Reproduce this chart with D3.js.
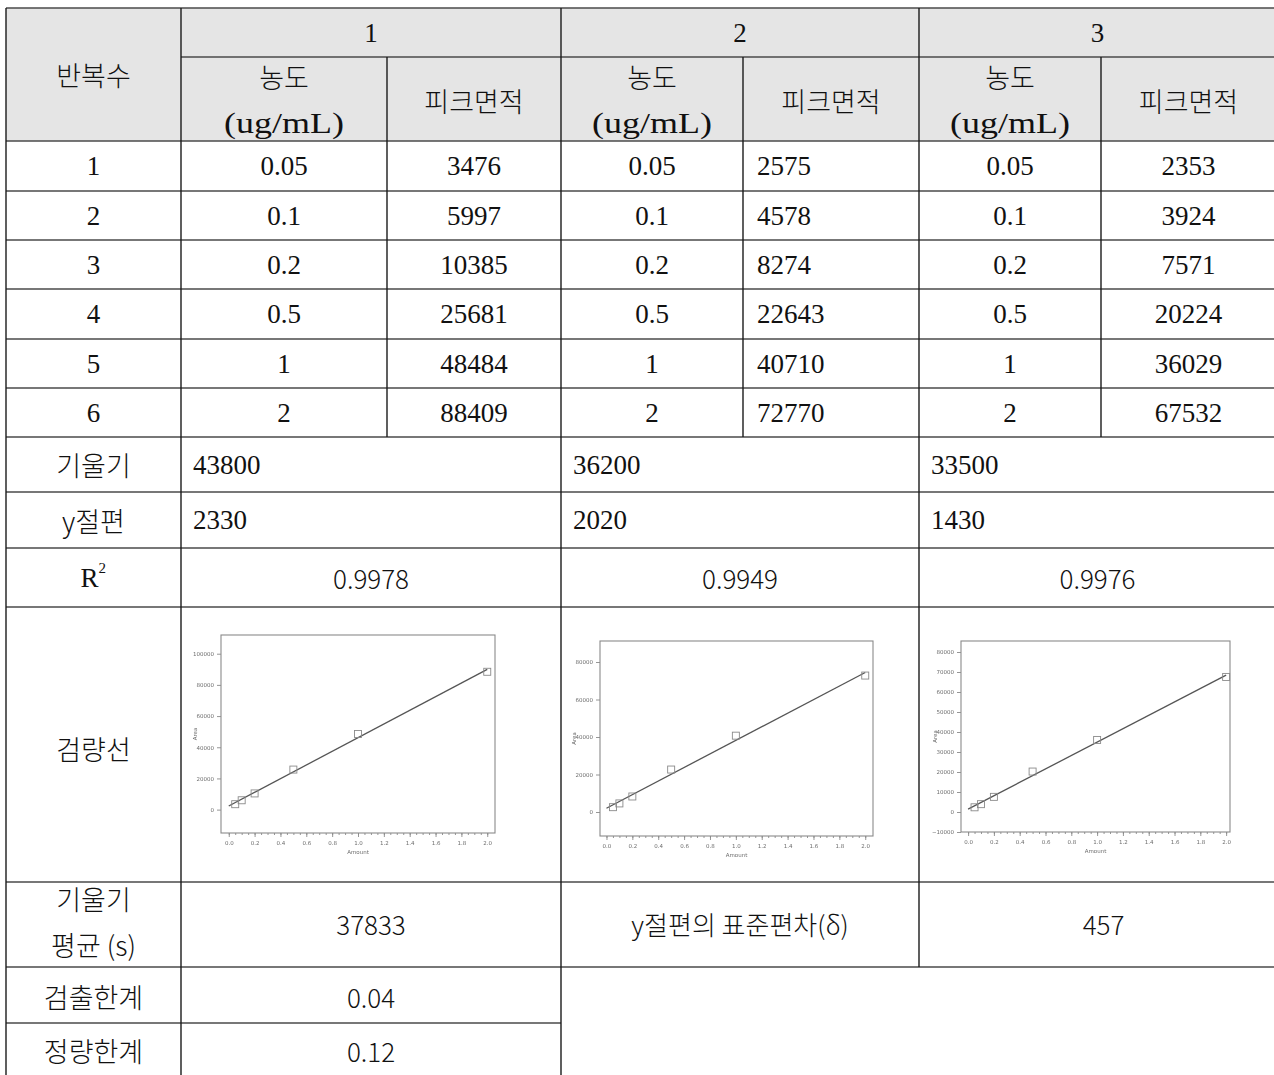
<!DOCTYPE html>
<html>
<head>
<meta charset="utf-8">
<script src="https://cdn.jsdelivr.net/npm/d3@7/dist/d3.min.js"></script>
<style>
  html, body { margin: 0; padding: 0; background: #ffffff; }
  svg { display: block; }
</style>
</head>
<body>
<svg id="chart" width="1274" height="1075"></svg>
<script>
// ---- data ----
const replicates = ["1", "2", "3"];
const rowNumbers = ["1", "2", "3", "4", "5", "6"];
const concentrations = [0.05, 0.1, 0.2, 0.5, 1, 2];
const concLabels = ["0.05", "0.1", "0.2", "0.5", "1", "2"];
const areaRep1 = [3476, 5997, 10385, 25681, 48484, 88409];
const areaRep2 = [2575, 4578, 8274, 22643, 40710, 72770];
const areaRep3 = [2353, 3924, 7571, 20224, 36029, 67532];
const slopes = [43800, 36200, 33500];
const intercepts = [2330, 2020, 1430];
const rSquared = ["0.9978", "0.9949", "0.9976"];
const slopeMean = "37833";
const interceptSd = "457";
const detectionLimit = "0.04";
const quantLimit = "0.12";
const yTicksRep1 = [0, 20000, 40000, 60000, 80000, 100000];
const yTicksRep2 = [0, 20000, 40000, 60000, 80000];
const yTicksRep3 = [-10000, 0, 10000, 20000, 30000, 40000, 50000, 60000, 70000, 80000];
const xTicks = [0, 0.2, 0.4, 0.6, 0.8, 1.0, 1.2, 1.4, 1.6, 1.8, 2.0];

const areas = [areaRep1, areaRep2, areaRep3];
const yTicksAll = [yTicksRep1, yTicksRep2, yTicksRep3];

// ---- layout ----
const svg = d3.select("#chart");
const colX = [6, 181, 387, 561, 743, 919, 1101, 1276];
const hdrTop = 8, hdrMid = 57, hdrBot = 141;
const dataRowY = [141, 191, 240, 289, 339, 388, 437];
const yRow = { slopeTop: 437, icptTop: 492, r2Top: 548, curveTop: 607, meanTop: 882, lodTop: 967, loqTop: 1023, end: 1076 };

const SANS = "'Noto Sans CJK KR', 'Noto Sans', sans-serif";
const SERIF = "'Liberation Serif', 'DejaVu Serif', serif";
const lineColor = "#1a1a1a";
const hLineColor = "#4a4a4a";

// header background
svg.append("rect").attr("x", colX[0]).attr("y", hdrTop)
  .attr("width", colX[7] - colX[0]).attr("height", hdrBot - hdrTop)
  .attr("fill", "#e5e5e5");

// ---- grid lines ----
const hLines = [
  [hdrTop, colX[0], colX[7]],
  [hdrMid, colX[1], colX[7]],
  [hdrBot, colX[0], colX[7]],
  ...dataRowY.slice(1).map(y => [y, colX[0], colX[7]]),
  [yRow.icptTop, colX[0], colX[7]],
  [yRow.r2Top, colX[0], colX[7]],
  [yRow.curveTop, colX[0], colX[7]],
  [yRow.meanTop, colX[0], colX[7]],
  [yRow.lodTop, colX[0], colX[7]],
  [yRow.loqTop, colX[0], colX[3]]
];
svg.append("g").selectAll("line").data(hLines).join("line")
  .attr("x1", d => d[1]).attr("x2", d => d[2])
  .attr("y1", d => d[0]).attr("y2", d => d[0])
  .attr("stroke", hLineColor).attr("stroke-width", 1.6);

const vLines = [
  [colX[0], hdrTop, yRow.end],
  [colX[1], hdrTop, yRow.end],
  [colX[3], hdrTop, yRow.end],
  [colX[5], hdrTop, yRow.lodTop],
  [colX[2], hdrMid, dataRowY[6]],
  [colX[4], hdrMid, dataRowY[6]],
  [colX[6], hdrMid, dataRowY[6]]
];
svg.append("g").selectAll("line").data(vLines).join("line")
  .attr("x1", d => d[0]).attr("x2", d => d[0])
  .attr("y1", d => d[1]).attr("y2", d => d[2])
  .attr("stroke", lineColor).attr("stroke-width", 1.4);

// ---- text helper ----
function txt(x, y, s, opts = {}) {
  const t = svg.append("text")
    .attr("x", x).attr("y", y)
    .attr("text-anchor", opts.anchor || "middle")
    .attr("dominant-baseline", "central")
    .attr("font-family", opts.font || SANS)
    .attr("font-size", opts.size || 27)
    .attr("font-weight", opts.weight || 300)
    .attr("fill", "#111")
    .text(s);
  if (opts.len) t.attr("textLength", opts.len).attr("lengthAdjust", "spacingAndGlyphs");
  return t;
}
const mid = (a, b) => (a + b) / 2;

// header
txt(mid(colX[0], colX[1]), 74, "반복수");
replicates.forEach((r, i) => {
  const c0 = colX[1 + 2 * i], c1 = colX[2 + 2 * i], c2 = colX[3 + 2 * i];
  txt(mid(c0, c2), 33, r, { font: SERIF, weight: 400 });
  txt(mid(c0, c1), 76, "농도");
  txt(mid(c0, c1), 123, "(ug/mL)", { font: SERIF, size: 29, weight: 400, len: 120 });
  txt(mid(c1, c2), 100, "피크면적");
});

// data rows
rowNumbers.forEach((n, r) => {
  const yc = mid(dataRowY[r], dataRowY[r + 1]);
  txt(mid(colX[0], colX[1]), yc, n, { font: SERIF, weight: 400 });
  replicates.forEach((rep, i) => {
    const c0 = colX[1 + 2 * i], c1 = colX[2 + 2 * i], c2 = colX[3 + 2 * i];
    txt(mid(c0, c1), yc, concLabels[r], { font: SERIF, weight: 400 });
    if (i === 1) txt(c1 + 14, yc, String(areas[i][r]), { font: SERIF, weight: 400, anchor: "start" });
    else txt(mid(c1, c2), yc, String(areas[i][r]), { font: SERIF, weight: 400 });
  });
});

// slope / intercept / R²
const slopeY = mid(yRow.slopeTop, yRow.icptTop);
const icptY = mid(yRow.icptTop, yRow.r2Top);
const r2Y = mid(yRow.r2Top, yRow.curveTop);
txt(mid(colX[0], colX[1]), slopeY, "기울기");
txt(mid(colX[0], colX[1]), icptY, "y절편");
txt(mid(colX[0], colX[1]) - 4, r2Y, "R", { font: SERIF, weight: 400 });
svg.append("text").attr("x", mid(colX[0], colX[1]) + 5).attr("y", r2Y - 10)
  .attr("font-family", SERIF).attr("font-size", 15).attr("fill", "#111")
  .attr("dominant-baseline", "central").text("2");
replicates.forEach((rep, i) => {
  const c0 = colX[1 + 2 * i], c2 = colX[3 + 2 * i];
  txt(c0 + 12, slopeY, String(slopes[i]), { font: SERIF, weight: 400, anchor: "start" });
  txt(c0 + 12, icptY, String(intercepts[i]), { font: SERIF, weight: 400, anchor: "start" });
  txt(mid(c0, c2), r2Y, rSquared[i], { size: 26 });
});

// calibration label
txt(mid(colX[0], colX[1]), 748, "검량선");

// summary rows
txt(mid(colX[0], colX[1]), 898, "기울기");
txt(mid(colX[0], colX[1]), 944, "평균 (s)");
txt(mid(colX[1], colX[3]), 923, slopeMean, { size: 26 });
txt(mid(colX[3], colX[5]), 923, "y절편의 표준편차(δ)", { size: 26 });
txt(mid(colX[5], colX[7]) + 6, 923, interceptSd, { size: 26 });
txt(mid(colX[0], colX[1]), 996, "검출한계");
txt(mid(colX[1], colX[3]), 996, detectionLimit, { size: 26 });
txt(mid(colX[0], colX[1]), 1050, "정량한계");
txt(mid(colX[1], colX[3]), 1050, quantLimit, { size: 26 });

// ---- calibration curve plots ----
const defs = svg.append("defs");
defs.append("filter").attr("id", "soft")
  .append("feGaussianBlur").attr("stdDeviation", 0.6);

const plotBoxes = [
  { left: 221, right: 495, top: 635, bottom: 833, xDomain: [-0.06, 2.06], yDomain: [-15000, 112000] },
  { left: 600, right: 873, top: 641, bottom: 836, xDomain: [-0.05, 2.06], yDomain: [-12800, 91200] },
  { left: 961, right: 1230, top: 641, bottom: 832, xDomain: [-0.055, 2.03], yDomain: [-10000, 85500] }
];

plotBoxes.forEach((b, i) => {
  const g = svg.append("g").attr("filter", "url(#soft)");
  const x = d3.scaleLinear().domain(b.xDomain).range([b.left, b.right]);
  const y = d3.scaleLinear().domain(b.yDomain).range([b.bottom, b.top]);

  g.append("rect").attr("x", b.left).attr("y", b.top)
    .attr("width", b.right - b.left).attr("height", b.bottom - b.top)
    .attr("fill", "none").attr("stroke", "#8a8a8a").attr("stroke-width", 1.1);

  // minor x ticks
  const xMinor = d3.range(0, 2.0001, 0.05);
  const xMinorAxis = g.append("g").attr("transform", `translate(0,${b.bottom})`)
    .call(d3.axisBottom(x).tickValues(xMinor).tickSize(2).tickFormat(""));
  // major x ticks
  const xAxis = g.append("g").attr("transform", `translate(0,${b.bottom})`)
    .call(d3.axisBottom(x).tickValues(xTicks).tickSize(4).tickPadding(4).tickFormat(d3.format(".1f")));
  const yAxis = g.append("g").attr("transform", `translate(${b.left},0)`)
    .call(d3.axisLeft(y).tickValues(yTicksAll[i]).tickSize(4).tickPadding(3).tickFormat(d3.format("d")));
  [xMinorAxis, xAxis, yAxis].forEach(a => {
    a.select(".domain").remove();
    a.selectAll("line").attr("stroke", "#8a8a8a").attr("stroke-width", 0.9);
    a.selectAll("text").attr("font-family", "'DejaVu Sans', sans-serif")
      .attr("font-size", 5.5).attr("fill", "#6e6e6e");
  });

  // axis titles
  g.append("text").attr("x", mid(b.left, b.right)).attr("y", b.bottom + 21)
    .attr("text-anchor", "middle").attr("font-family", "'DejaVu Sans', sans-serif")
    .attr("font-size", 5.5).attr("fill", "#6e6e6e").text("Amount");
  g.append("text").attr("transform", `translate(${b.left - 24},${mid(b.top, b.bottom)}) rotate(-90)`)
    .attr("text-anchor", "middle").attr("font-family", "'DejaVu Sans', sans-serif")
    .attr("font-size", 5.5).attr("fill", "#6e6e6e").text("Area");

  // regression line
  const fitX = [0, 2];
  g.append("path")
    .datum(fitX)
    .attr("d", d3.line().x(d => x(d)).y(d => y(slopes[i] * d + intercepts[i])))
    .attr("fill", "none").attr("stroke", "#555").attr("stroke-width", 1.3);

  // measured points
  g.selectAll("rect.pt").data(concentrations.map((c, k) => [c, areas[i][k]])).join("rect")
    .attr("class", "pt")
    .attr("x", d => x(d[0]) - 3.5).attr("y", d => y(d[1]) - 3.5)
    .attr("width", 7).attr("height", 7)
    .attr("fill", "none").attr("stroke", "#8a8a8a").attr("stroke-width", 0.9);
});
</script>
</body>
</html>
